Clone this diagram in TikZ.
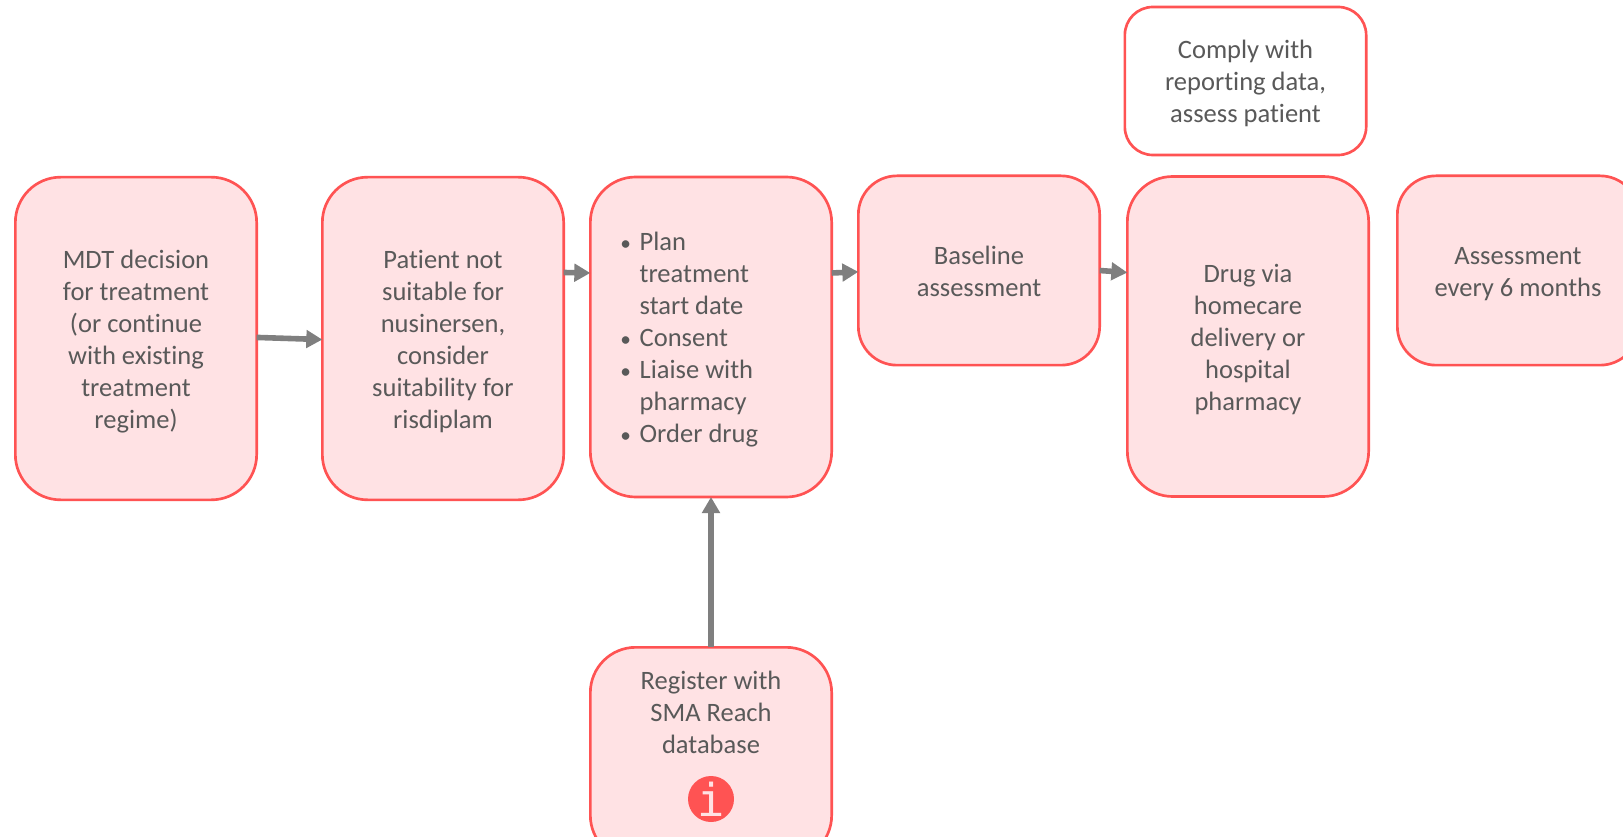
\documentclass[tikz,border=0pt]{standalone}
\usepackage{fontspec}
\setmainfont[RawFeature=-liga]{Carlito}
\newfontfamily\iconfont{DejaVu Sans Mono}
\usetikzlibrary{arrows.meta}
\definecolor{boxline}{HTML}{FF5353}
\definecolor{boxfill}{HTML}{FFE2E4}
\definecolor{boxtext}{HTML}{595959}
\definecolor{flowgrey}{HTML}{7F7F7F}
\newcommand{\topline}{\rule{0pt}{20pt}}
\newcommand{\planitem}[1]{\makebox[14.5pt][l]{\fontsize{16}{24}\selectfont•}#1}
\tikzset{
    stepbox/.style={draw=boxline,fill=boxfill,line width=2pt,rounded corners=34pt,
        minimum width=181pt,minimum height=242pt,align=center,text=boxtext,outer sep=0pt,
        font=\fontsize{19.9}{24}\selectfont,
        execute at end node={\rule[-5pt]{0pt}{5pt}}},
    flow/.style={draw=flowgrey,line width=4.2pt,-{Triangle[length=12pt,width=13pt]}}
}
\begin{document}
\begin{tikzpicture}[x=.75pt,y=-.75pt]
    \clip (0,0) rectangle (1623,837);
    \node[stepbox] (mdt) at (136,338.5) {\topline MDT decision\\for treatment\\(or continue\\with existing\\treatment\\regime)};
    \node[stepbox] (patient) at (443,338.5) {\topline Patient not\\suitable for\\nusinersen,\\consider\\suitability for\\risdiplam};
    \node[stepbox,minimum height=240pt,align=flush left,text width=136pt] (plan) at (711,337)
        {\rule{0pt}{19pt}\planitem{Plan}\\\hspace{14.5pt}treatment\\\hspace{14.5pt}start date\\\planitem{Consent}\\\planitem{Liaise with}\\\hspace{14.5pt}pharmacy\\\planitem{Order drug}};
    \node[stepbox,minimum height=142pt,rounded corners=29pt] (baseline) at (979,270.5) {\topline Baseline\\assessment};
    \node[stepbox,minimum height=240pt] (drug) at (1248,336.5) {\topline Drug via\\homecare\\delivery or\\hospital\\pharmacy};
    \node[stepbox,minimum height=142pt,rounded corners=29pt] (review) at (1518,270.5) {\topline Assessment\\every 6 months};
    \node[stepbox,fill=white,minimum height=111pt,rounded corners=21pt] (comply) at (1245.5,81) {\rule{0pt}{19pt}Comply with\\reporting data,\\assess patient};
    \node[stepbox,minimum height=160pt] (register) at (711,754) {\topline Register with\\SMA Reach\\database\\[37.5pt]\strut};
    \node[circle,fill=boxline,minimum size=34.5pt,inner sep=0pt,text=boxfill,font=\iconfont\fontsize{34}{34}\selectfont] (info) at (711,799) {i};
    \draw[flow] ([yshift=.8pt]mdt.east) -- ([yshift=-.8pt]patient.west);
    \draw[flow] ([yshift=49.5pt]patient.east) -- ([yshift=48pt]plan.west);
    \draw[flow] ([yshift=48pt]plan.east) -- ([yshift=-1pt]baseline.west);
    \draw[flow] (baseline.east) -- ([yshift=48pt]drug.west);
    \draw[flow] (register) -- (plan);
\end{tikzpicture}
\end{document}
